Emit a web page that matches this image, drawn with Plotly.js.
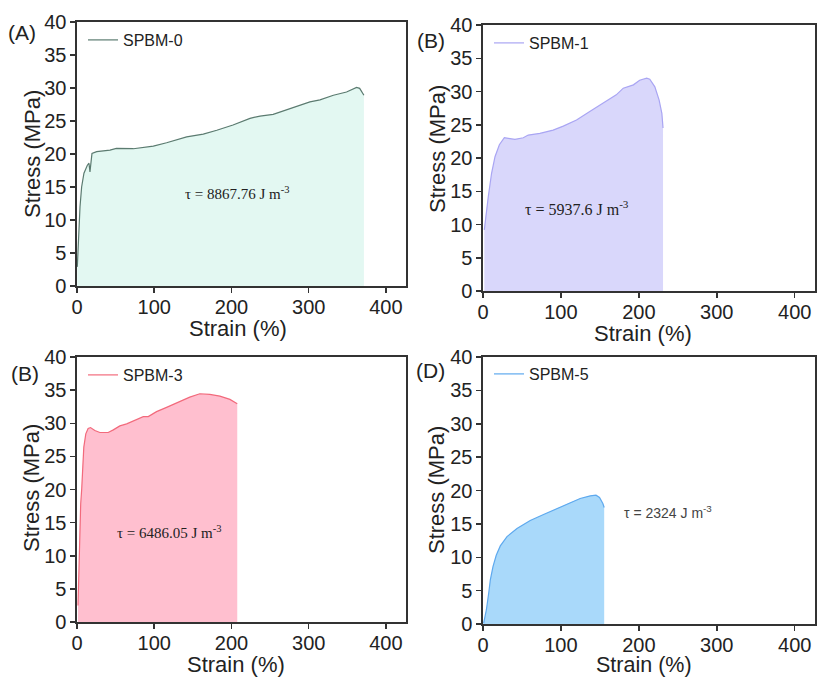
<!DOCTYPE html>
<html>
<head>
<meta charset="utf-8">
<script src="https://cdn.plot.ly/plotly-3.0.1.min.js"></script>
<style>html,body{margin:0;padding:0;background:#fff;}#chart{width:817px;height:677px;}</style>
</head>
<body>
<div id="chart"></div>
<script>
// Panel A: SPBM-0
const strainA = [0.4, 2.2, 3.9, 6, 9, 13.4, 15.5, 16.8, 17.7, 19.4, 25.5, 42.7, 51, 73, 98.8, 116, 142, 163.5, 181, 202, 224, 237, 254, 271.5, 289, 301.6, 314.6, 332, 349, 362, 366, 371.5];
const stressA = [2.9, 8, 12, 15, 17.1, 18.3, 18.6, 17.3, 18.1, 20.1, 20.35, 20.6, 20.85, 20.8, 21.2, 21.7, 22.6, 23.0, 23.6, 24.4, 25.4, 25.75, 26.0, 26.7, 27.4, 27.9, 28.2, 28.9, 29.4, 30.1, 29.95, 28.9];
// Panel B: SPBM-1
const strainB = [1.7, 3.8, 6.8, 11, 15.4, 21, 27.4, 32.5, 41, 51.7, 58, 73, 90, 103, 120, 137, 154, 171, 180, 193, 201, 210, 214, 220.5, 226, 229.5, 231];
const stressB = [9.2, 11.7, 14.2, 17.7, 20.2, 22, 23.05, 22.96, 22.8, 23.05, 23.45, 23.7, 24.2, 24.8, 25.7, 27, 28.2, 29.5, 30.5, 31, 31.7, 32, 31.85, 30.7, 28.7, 26.7, 24.5];
// Panel C: SPBM-3
const strainC = [1.3, 2.6, 3.5, 4.8, 6.1, 7, 8.8, 11.4, 14.4, 17.5, 23.1, 29.6, 40.4, 47, 55.5, 64.3, 72.9, 85.8, 92.3, 103, 116, 133, 146, 159, 172, 185, 198, 207.5];
const stressC = [2.5, 7.8, 13.85, 17.9, 20.1, 22.9, 26.4, 28.4, 29.2, 29.35, 28.9, 28.6, 28.6, 29.0, 29.6, 29.9, 30.3, 31.0, 31.0, 31.75, 32.4, 33.3, 33.95, 34.45, 34.35, 34.1, 33.6, 32.95];
// Panel D: SPBM-5
const strainD = [0.8, 4.3, 7.3, 9.4, 12.8, 17, 22.2, 30.8, 43.6, 60.6, 77.7, 94.8, 112, 124.7, 137.6, 145, 149.5, 153.8, 155.5];
const stressD = [0.1, 2.1, 4.6, 6.6, 8.6, 10.3, 11.7, 13.1, 14.3, 15.5, 16.4, 17.3, 18.2, 18.8, 19.2, 19.3, 18.95, 18.05, 17.45];

const names = ['SPBM-0', 'SPBM-1', 'SPBM-3', 'SPBM-5'];
const panelLabels = ['(A)', '(B)', '(B)', '(D)'];
const toughness = ['τ = 8867.76 J m<sup>-3</sup>', 'τ = 5937.6 J m<sup>-3</sup>', 'τ = 6486.05 J m<sup>-3</sup>', 'τ = 2324 J m<sup>-3</sup>'];
const xTitle = 'Strain (%)';
const yTitle = 'Stress (MPa)';
const xTicks = [0, 100, 200, 300, 400];
const yTicks = [0, 5, 10, 15, 20, 25, 30, 35, 40];

const W = 817, H = 677;
const px = v => v / W;
const py = v => 1 - v / H;

const lineColors = ['#5b7b70', '#a9a5f3', '#f26a7c', '#5ea9ee'];
const fillColors = ['#e3f8f2', '#d9d7fb', '#ffbfcf', '#a9d9fa'];
const xs = [strainA, strainB, strainC, strainD];
const ys = [stressA, stressB, stressC, stressD];

// panel geometry in pixels: [left, right, top, bottom]
const boxes = [[77, 406, 22, 286], [483, 815, 25, 291], [77, 406, 357, 622], [483, 815, 357, 624]];
const legendY = [40, 43, 375, 374];
const xTitlePos = [[238, 328], [643, 333], [236, 664], [644, 665.3]];
const xTitleSize = [22, 22, 22, 21.5];
const yTitlePos = [[32, 154], [438, 149], [31, 488], [436, 490]];
const labelPos = [[22, 33], [431, 40], [25, 373], [430, 370]];

const traces = [];
const layout = {
  width: W, height: H,
  margin: {l: 0, r: 0, t: 0, b: 0},
  paper_bgcolor: '#fff', plot_bgcolor: '#fff',
  font: {family: 'Liberation Sans, Arial, sans-serif', color: '#222'},
  showlegend: true,
  annotations: []
};

for (let i = 0; i < 4; i++) {
  const sfx = i === 0 ? '' : String(i + 1);
  const b = boxes[i];
  // filled area (no legend entry)
  traces.push({
    x: xs[i], y: ys[i], type: 'scatter', mode: 'none', name: names[i] + ' area',
    xaxis: 'x' + sfx, yaxis: 'y' + sfx,
    fill: 'tozeroy', fillcolor: fillColors[i],
    showlegend: false, legend: 'legend' + sfx
  });
  // curve line (legend entry)
  traces.push({
    x: xs[i], y: ys[i], type: 'scatter', mode: 'lines', name: names[i],
    xaxis: 'x' + sfx, yaxis: 'y' + sfx,
    line: {color: lineColors[i], width: 1.2},
    legend: 'legend' + sfx
  });
  const axCommon = {
    showline: true, linecolor: '#333', linewidth: 1.6, mirror: true,
    showgrid: false, zeroline: false,
    ticks: 'outside', ticklen: 5, tickwidth: 1.5, tickcolor: '#333',
    tickfont: {size: 20, family: 'Liberation Sans, Arial, sans-serif', color: '#222'}
  };
  layout['xaxis' + sfx] = Object.assign({}, axCommon, {
    domain: [px(b[0]), px(b[1])], anchor: 'y' + sfx,
    range: [0, 426], tickmode: 'array', tickvals: xTicks, ticklabelstandoff: -3
  });
  layout['yaxis' + sfx] = Object.assign({}, axCommon, {
    domain: [py(b[3]), py(b[2])], anchor: 'x' + sfx,
    range: [0, 40], tickmode: 'array', tickvals: yTicks
  });
  layout['legend' + sfx] = {
    x: px(b[0] + 6), y: py(legendY[i]),
    xanchor: 'left', yanchor: 'middle',
    bgcolor: 'rgba(0,0,0,0)',
    font: {size: 16, family: 'Liberation Sans, Arial, sans-serif', color: '#222'}
  };
  // axis titles
  layout.annotations.push({
    text: xTitle, xref: 'paper', yref: 'paper',
    x: px(xTitlePos[i][0]), y: py(xTitlePos[i][1]), xanchor: 'center', yanchor: 'middle',
    showarrow: false, font: {size: xTitleSize[i], family: 'Liberation Sans, Arial, sans-serif', color: '#222'}
  });
  layout.annotations.push({
    text: yTitle, xref: 'paper', yref: 'paper', textangle: -90,
    x: px(yTitlePos[i][0]), y: py(yTitlePos[i][1]), xanchor: 'center', yanchor: 'middle',
    showarrow: false, font: {size: 22, family: 'Liberation Sans, Arial, sans-serif', color: '#222'}
  });
  // panel label
  layout.annotations.push({
    text: panelLabels[i], xref: 'paper', yref: 'paper',
    x: px(labelPos[i][0]), y: py(labelPos[i][1]), xanchor: 'center', yanchor: 'middle',
    showarrow: false, font: {size: 21, family: 'Liberation Sans, Arial, sans-serif', color: '#222'}
  });
}

// toughness annotations in data coordinates
const annX = [208, 120.5, 120, 238];
const annY = [14.1, 12.5, 13.6, 16.8];
const annSize = [15, 16, 15, 14];
const annFont = ['Liberation Serif, Times New Roman, serif', 'Liberation Serif, Times New Roman, serif', 'Liberation Serif, Times New Roman, serif', 'Liberation Sans, Arial, sans-serif'];
const annColor = ['#222', '#222', '#222', '#444'];
for (let i = 0; i < 4; i++) {
  const sfx = i === 0 ? '' : String(i + 1);
  layout.annotations.push({
    text: toughness[i], xref: 'x' + sfx, yref: 'y' + sfx,
    x: annX[i], y: annY[i], xanchor: 'center', yanchor: 'middle',
    showarrow: false, font: {size: annSize[i], family: annFont[i], color: annColor[i]}
  });
}

Plotly.newPlot('chart', traces, layout, {displayModeBar: false, staticPlot: true});
</script>
</body>
</html>
